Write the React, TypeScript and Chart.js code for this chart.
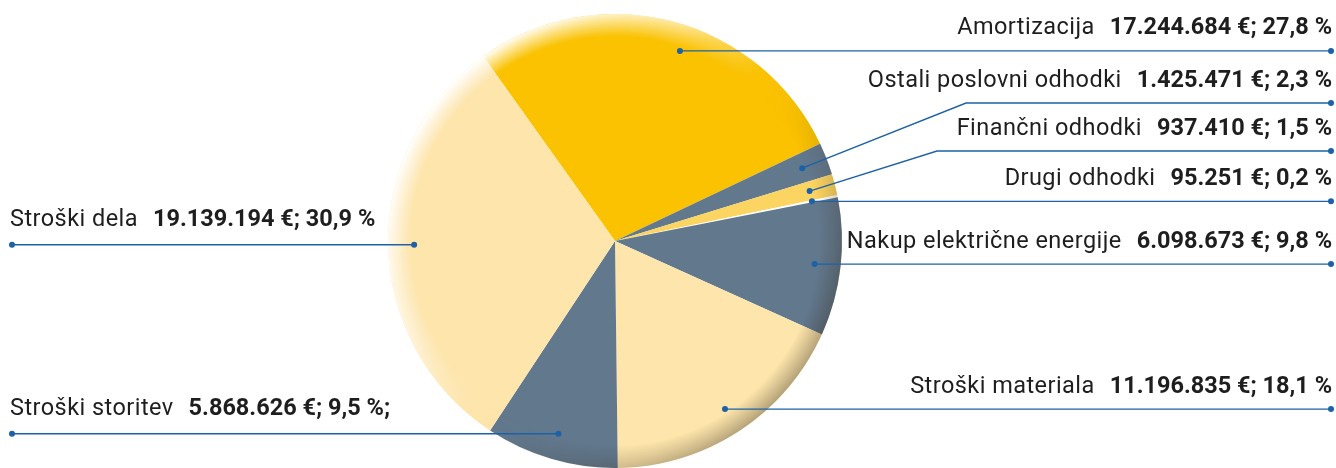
import React, { useEffect, useRef } from "react";
import { Chart, registerables } from "chart.js";

Chart.register(...registerables);

// ---- data ----
const categories = [
  "Amortizacija",
  "Ostali poslovni odhodki",
  "Finančni odhodki",
  "Drugi odhodki",
  "Nakup električne energije",
  "Stroški materiala",
  "Stroški storitev",
  "Stroški dela",
];
const amounts = [17244684, 1425471, 937410, 95251, 6098673, 11196835, 5868626, 19139194];
const valueLabels = [
  "17.244.684 €; 27,8 %",
  "1.425.471 €; 2,3 %",
  "937.410 €; 1,5 %",
  "95.251 €; 0,2 %",
  "6.098.673 €; 9,8 %",
  "11.196.835 €; 18,1 %",
  "5.868.626 €; 9,5 %;",
  "19.139.194 €; 30,9 %",
];
const sliceColors = [
  "#FAC200",
  "#62788D",
  "#FCD462",
  "#FFFFFF",
  "#62788D",
  "#FDE5AC",
  "#62788D",
  "#FDE5AC",
];

// ---- layout / style ----
const labelSide = ["right", "right", "right", "right", "right", "right", "left", "left"];
const elbowLineY: (number | null)[] = [null, 103, 151, null, null, null, null, null];
const elbowKneeX: (number | null)[] = [null, 966, 937, null, null, null, null, null];
const anchorAngleShift = [4.3, 0, 0, 0, 0, 0, 0, 0];
const ANCHOR_RADIUS = 0.885;
const LINE_COLOR = "#1D62A6";
const TEXT_COLOR = "#1E1E1E";
const FONT_FAMILY = "Roboto";
const FONT_SIZE = 23.5;
const NAME_SPACING = "0.45px";
const VALUE_SPACING = "0px";
const NAME_GAP = 15;

const shadingPlugin = {
  id: "rimShading",
  afterDatasetsDraw(chart: any) {
    const meta = chart.getDatasetMeta(0);
    const arc = meta.data[0];
    if (!arc) return;
    const { x, y, outerRadius } = arc.getProps(["x", "y", "outerRadius"], true);
    const R = outerRadius;
    const size = Math.ceil(R * 2 + 4);
    const off = document.createElement("canvas");
    off.width = size;
    off.height = size;
    const o = off.getContext("2d")!;
    const cx = size / 2;
    const cy = size / 2;
    const lg = o.createLinearGradient(cx - R * 0.75, cy - R * 0.66, cx + R * 0.75, cy + R * 0.66);
    lg.addColorStop(0, "rgba(255,255,255,1)");
    lg.addColorStop(0.3, "rgba(255,255,255,0.6)");
    lg.addColorStop(0.5, "rgba(255,255,255,0)");
    lg.addColorStop(0.62, "rgba(60,45,20,0.04)");
    lg.addColorStop(1, "rgba(50,40,25,0.36)");
    o.fillStyle = lg;
    o.beginPath();
    o.arc(cx, cy, R, 0, Math.PI * 2);
    o.fill();
    o.globalCompositeOperation = "destination-in";
    const rg = o.createRadialGradient(cx, cy, R * 0.9, cx, cy, R);
    rg.addColorStop(0, "rgba(0,0,0,0)");
    rg.addColorStop(0.6, "rgba(0,0,0,0.6)");
    rg.addColorStop(1, "rgba(0,0,0,1)");
    o.fillStyle = rg;
    o.fillRect(0, 0, size, size);
    chart.ctx.drawImage(off, x - cx, y - cy);
  },
};

const labelPlugin = {
  id: "leaderLabels",
  afterDraw(chart: any) {
    const ctx = chart.ctx;
    const meta = chart.getDatasetMeta(0);
    const rightX = chart.width - 5;
    const leftX = 12;
    meta.data.forEach((arc: any, i: number) => {
      const { x, y, startAngle, endAngle, outerRadius } = arc.getProps(
        ["x", "y", "startAngle", "endAngle", "outerRadius"],
        true
      );
      const a = (startAngle + endAngle) / 2 + (anchorAngleShift[i] * Math.PI) / 180;
      const r = outerRadius * ANCHOR_RADIUS;
      const px = x + r * Math.cos(a);
      const py = y + r * Math.sin(a);
      const right = labelSide[i] === "right";
      const endX = right ? rightX : leftX;
      const lineY = elbowLineY[i] ?? py;
      ctx.save();
      ctx.strokeStyle = LINE_COLOR;
      ctx.fillStyle = LINE_COLOR;
      ctx.lineWidth = 1.4;
      ctx.beginPath();
      ctx.moveTo(px, py);
      if (elbowKneeX[i] != null) ctx.lineTo(elbowKneeX[i] as number, lineY);
      ctx.lineTo(endX, lineY);
      ctx.stroke();
      ctx.beginPath();
      ctx.arc(px, py, 3, 0, Math.PI * 2);
      ctx.fill();
      ctx.beginPath();
      ctx.arc(endX, lineY, 3, 0, Math.PI * 2);
      ctx.fill();

      // text
      const base = lineY - (right ? 16.5 : 19);
      const regFont = `400 ${FONT_SIZE}px ${FONT_FAMILY}`;
      const boldFont = `700 ${FONT_SIZE}px ${FONT_FAMILY}`;
      ctx.fillStyle = TEXT_COLOR;
      ctx.textBaseline = "alphabetic";
      ctx.textAlign = "left";
      ctx.font = boldFont;
      (ctx as any).letterSpacing = VALUE_SPACING;
      const wb = ctx.measureText(valueLabels[i]).width;
      ctx.font = regFont;
      (ctx as any).letterSpacing = NAME_SPACING;
      const wr = ctx.measureText(categories[i]).width;
      const startX = right ? rightX + 1 - (wr + NAME_GAP + wb) : 10;
      ctx.fillText(categories[i], startX, base);
      ctx.font = boldFont;
      (ctx as any).letterSpacing = VALUE_SPACING;
      ctx.fillText(valueLabels[i], startX + wr + NAME_GAP, base);
      ctx.restore();
    });
  },
};

export default function App() {
  const ref = useRef<HTMLCanvasElement | null>(null);
  useEffect(() => {
    document.body.style.margin = "0";
    const canvas = ref.current!;
    const chart = new Chart(canvas, {
      type: "pie",
      data: {
        labels: categories,
        datasets: [
          {
            data: amounts,
            backgroundColor: sliceColors,
            borderWidth: 0,
          },
        ],
      },
      options: {
        animation: false,
        responsive: false,
        rotation: -35.5,
        layout: { padding: { top: 14, bottom: 0, left: 0, right: 106 } },
        plugins: {
          legend: { display: false },
          tooltip: { enabled: false },
        },
      },
      plugins: [shadingPlugin, labelPlugin],
    });
    return () => chart.destroy();
  }, []);
  return (
    <div style={{ width: 1336, height: 468, background: "#fff" }}>
      <canvas ref={ref} width={1336} height={468} style={{ display: "block" }} />
    </div>
  );
}
